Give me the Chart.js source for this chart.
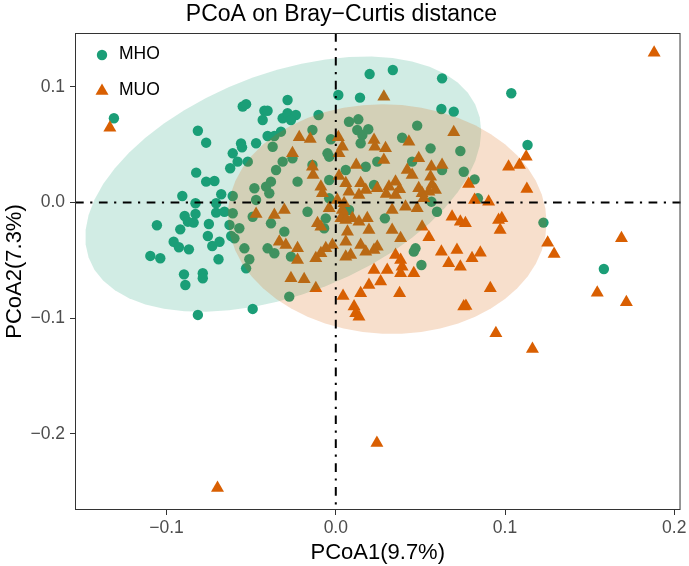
<!DOCTYPE html>
<html>
<head>
<meta charset="utf-8">
<script src="https://cdn.jsdelivr.net/npm/chart.js@4.4.0/dist/chart.umd.min.js"></script>
<style>
  html, body { margin: 0; padding: 0; background: #fff; }
  #wrap { width: 689px; height: 566px; }
</style>
</head>
<body>
<div id="wrap"><canvas id="pcoa" width="689" height="566"></canvas></div>
<script>
// group names and colours
const groups = ['MHO', 'MUO'];
const groupColors = ['#1B9E77', '#D95F02'];

// MHO samples (PCoA1, PCoA2)
const mhoX = [
  -0.1311, -0.0550, -0.0530, -0.0815, -0.0766, -0.0560, -0.0554, -0.0609, -0.0580, -0.0624,
  -0.0520, -0.0825, -0.0766, -0.0717, -0.0907, -0.0829, -0.0677, -0.0609, -0.0707,
  -0.0893, -0.0829, -0.0874, -0.0840, -0.1057, -0.0919, -0.0750, -0.0756, -0.0707, -0.0658,
  -0.0609, -0.0628, -0.0618, -0.0599, -0.0958, -0.0927, -0.0868, -0.0730, -0.0687, -0.1096,
  -0.1037, -0.0693, -0.0897, -0.0889, -0.0786, -0.0786, -0.0815, -0.0530, -0.0511, -0.0540,
  -0.0570,
  0.0200, 0.0337, 0.0628, 0.0015, 0.0143, -0.0285, -0.0422, -0.0403, -0.0432, -0.0314,
  -0.0285, -0.0236, -0.0265, -0.0102, 0.0624, 0.0697, 0.0078, 0.0133, 0.0481, -0.0471,
  -0.0403, -0.0363, -0.0324, -0.0138, -0.0029, 0.0127, 0.0157, 0.0192, 0.0147, 0.0392,
  0.0560, 0.0736, -0.0373, -0.0314, -0.0256, -0.0353, -0.0383, -0.0412, -0.0481, -0.0471,
  -0.0393, -0.0226, -0.0138, -0.0049, -0.0039, 0.0059, 0.0177, 0.0245, 0.0451, 0.0628,
  0.0756, -0.0039, 0.0226, 0.0565, -0.0039,
  -0.0167, -0.0383, -0.0304, -0.0491, -0.0059, -0.0069, 0.0078, 0.0290, 0.0598, -0.0403,
  -0.0363, -0.0265, 0.0471, 0.0461, 0.0506, -0.0275, -0.0491,
  0.1037, 0.1133, 0.0820, 0.0840, 0.1227, 0.1584
];
const mhoY = [
  0.0728, 0.0830, 0.0850, 0.0620, 0.0517, 0.0510, 0.0477, 0.0425, 0.0353, 0.0296,
  0.0353, 0.0258, 0.0180, 0.0186, 0.0056, -0.0007, 0.0071, 0.0056, -0.0007,
  -0.0117, -0.0099, -0.0166, -0.0174, -0.0197, -0.0232, -0.0186, -0.0290, -0.0088, -0.0080,
  -0.0093, -0.0194, -0.0290, -0.0310, -0.0339, -0.0387, -0.0405, -0.0376, -0.0339, -0.0462,
  -0.0482, -0.0491, -0.0621, -0.0713, -0.0612, -0.0655, -0.0972, -0.0569, -0.0491, -0.0396,
  -0.0223,
  0.1110, 0.1145, 0.1073, 0.0929, 0.0906, 0.0886, 0.0793, 0.0793, 0.0713, 0.0728,
  0.0771, 0.0756, 0.0713, 0.0756, 0.0808, 0.0785, 0.0698, 0.0719, 0.0664, 0.0512,
  0.0575, 0.0575, 0.0612, 0.0627, 0.0546, 0.0627, 0.0583, 0.0633, 0.0512, 0.0560,
  0.0468, 0.0445, 0.0482, 0.0353, 0.0382, 0.0281, 0.0180, 0.0137, 0.0123, 0.0022,
  0.0080, 0.0180, 0.0324, 0.0425, 0.0396, 0.0281, 0.0309, 0.0353, 0.0353, 0.0281,
  0.0266, 0.0194, 0.0151, 0.0007, 0.0036,
  -0.0080, -0.0180, -0.0252, -0.0123, -0.0137, -0.0223, -0.0065, -0.0137, -0.0080, -0.0396,
  -0.0439, -0.0468, -0.0396, -0.0425, -0.0540, -0.0814, -0.0920,
  0.0944, 0.0497, 0.0200, 0.0036, -0.0174, -0.0575
];

// MUO samples (PCoA1, PCoA2)
const muoX = [
  -0.1335, -0.0699, 0.0243,
  0.0284, -0.0216, -0.0151, 0.0015, 0.0039, 0.0226, 0.0231, 0.0294, 0.0432, 0.0697,
  -0.0256, 0.0019, 0.0284, 0.0490, -0.0138, -0.0134, 0.0121, 0.0422, 0.0451, 0.0565,
  0.0560, 0.0628, 0.0019, -0.0088, -0.0079, 0.0059, 0.0147, 0.0177, 0.0137, 0.0078,
  0.0245, 0.0314, 0.0353, 0.0377, 0.0298, 0.0353, 0.0490, 0.0510, 0.0550, 0.0569,
  0.0589, 0.0520, 0.0009, 0.0049,
  -0.0471, -0.0304, -0.0363, -0.0039, 0.0039, 0.0049, 0.0030, 0.0059, 0.0098, 0.0137,
  0.0186, 0.0333, 0.0412, 0.0481, 0.0687, 0.0736, 0.0766, -0.0108, -0.0088, 0.0196,
  0.0069, 0.0059, 0.0333, 0.0510, 0.0550, 0.0383, -0.0334, -0.0295, -0.0226, -0.0226,
  -0.0059, -0.0088, -0.0118, -0.0020, 0.0059, 0.0088, 0.0147, 0.0177, 0.0245, 0.0226,
  0.0353, 0.0383, 0.0392, 0.0383, 0.0461, 0.0624, 0.0716, 0.0667, 0.0736, 0.0226,
  0.0304, 0.0265, 0.0196, -0.0265, -0.0187, -0.0118, 0.0043, 0.0147, 0.0377, 0.0108,
  0.0118, 0.0137, 0.0756,
  0.1881, 0.1125, 0.1085, 0.1021, 0.1129, 0.0785, 0.0820, 0.0903, 0.1252, 0.1290,
  0.1688, 0.1545, 0.1717, 0.0946, 0.1162, 0.0913, 0.0769, 0.0854, 0.0805, 0.0981,
  0.0962, 0.0971
];
const muoY = [
  0.0647, -0.2468, -0.2079,
  0.0914, 0.0563, 0.0549, 0.0563, 0.0482, 0.0540, 0.0482, 0.0468, 0.0526, 0.0607,
  0.0425, 0.0425, 0.0367, 0.0382, 0.0309, 0.0238, 0.0324, 0.0281, 0.0238, 0.0309,
  0.0223, 0.0324, 0.0229, 0.0137, 0.0080, 0.0166, 0.0166, 0.0108, 0.0065, 0.0093,
  0.0123, 0.0137, 0.0180, 0.0114, 0.0073, 0.0065, 0.0123, 0.0080, 0.0093, 0.0151,
  0.0108, 0.0036, 0.0022, -0.0007,
  -0.0099, -0.0065, -0.0108, -0.0050, -0.0065, -0.0108, -0.0137, -0.0151, -0.0137, -0.0166,
  -0.0137, -0.0065, -0.0036, -0.0050, -0.0123, -0.0166, -0.0180, -0.0180, -0.0209, -0.0238,
  -0.0252, -0.0339, -0.0238, -0.0209, -0.0301, -0.0309, -0.0339, -0.0367, -0.0396, -0.0497,
  -0.0396, -0.0439, -0.0482, -0.0367, -0.0468, -0.0454, -0.0367, -0.0425, -0.0382, -0.0410,
  -0.0454, -0.0497, -0.0555, -0.0612, -0.0612, -0.0425, -0.0410, -0.0526, -0.0555, -0.0583,
  -0.0583, -0.0684, -0.0713, -0.0655, -0.0664, -0.0742, -0.0808, -0.0785, -0.0785, -0.0900,
  -0.0958, -0.0987, -0.0900,
  0.1295, 0.0396, 0.0324, 0.0309, 0.0117, 0.0160, 0.0022, 0.0007, -0.0347, -0.0445,
  -0.0309, -0.0780, -0.0863, -0.1131, -0.1266, -0.0742, -0.0895, -0.0434, -0.0482, -0.0137,
  -0.0151, -0.0238
];

// axes
const xTicks = [-0.1, 0, 0.1, 0.2];
const yTicks = [-0.2, -0.1, 0, 0.1];
const xRange = [-0.1541, 0.2037];
const yRange = [-0.2658, 0.1465];

const FONT = "'Liberation Sans', Arial, Helvetica, sans-serif";

function toPoints(xs, ys) {
  return xs.map((x, i) => ({ x: x, y: ys[i] }));
}

function fmt(v) {
  const s = Math.abs(v).toFixed(1);
  return v < -1e-9 ? '\u2212' + s : s;
}

// robust t covariance, like MASS::cov.trob (used by stat_ellipse type = "t")
function covTrob(xs, ys, nu) {
  const n = xs.length;
  let w = new Array(n).fill(1);
  let lx = xs.reduce((a, b) => a + b, 0) / n;
  let ly = ys.reduce((a, b) => a + b, 0) / n;
  let dx = [], dy = [];
  for (let it = 0; it < 25; it++) {
    const w0 = w.slice();
    dx = xs.map(v => v - lx);
    dy = ys.map(v => v - ly);
    let sw = 0, a = 0, b = 0, c = 0;
    for (let i = 0; i < n; i++) {
      sw += w[i];
      a += w[i] * dx[i] * dx[i];
      b += w[i] * dx[i] * dy[i];
      c += w[i] * dy[i] * dy[i];
    }
    a /= sw; b /= sw; c /= sw;
    const det = a * c - b * b;
    w = dx.map((_, i) => {
      const q = (c * dx[i] * dx[i] - 2 * b * dx[i] * dy[i] + a * dy[i] * dy[i]) / det;
      return (nu + 2) / (nu + q);
    });
    let s = 0, mx = 0, my = 0;
    for (let i = 0; i < n; i++) { s += w[i]; mx += w[i] * xs[i]; my += w[i] * ys[i]; }
    lx = mx / s; ly = my / s;
    if (w.every((v, i) => Math.abs(v - w0[i]) < 0.01)) break;
  }
  let a = 0, b = 0, c = 0;
  for (let i = 0; i < n; i++) {
    a += w[i] * dx[i] * dx[i];
    b += w[i] * dx[i] * dy[i];
    c += w[i] * dy[i] * dy[i];
  }
  return { cx: lx, cy: ly, sxx: a / n, sxy: b / n, syy: c / n, n: n };
}

// 95% ellipse outline in data units
function ellipsePath(xs, ys) {
  const e = covTrob(xs, ys, 5);
  const d = e.n - 1;
  const f = (d / 2) * (Math.pow(0.05, -2 / d) - 1);  // qf(0.95, 2, d)
  const r = Math.sqrt(2 * f);
  const a0 = Math.sqrt(e.sxx);
  const b0 = e.sxy / a0;
  const c0 = Math.sqrt(e.syy - b0 * b0);
  const out = [];
  for (let k = 0; k <= 51; k++) {
    const t = k * 2 * Math.PI / 51;
    out.push({
      x: e.cx + r * a0 * Math.cos(t),
      y: e.cy + r * (b0 * Math.cos(t) + c0 * Math.sin(t))
    });
  }
  return out;
}

const ellipsePlugin = {
  id: 'ellipses',
  afterDatasetsDraw(chart) {
    const { ctx, chartArea, scales } = chart;
    const sets = [[mhoX, mhoY, 'rgba(27,158,119,0.2)'], [muoX, muoY, 'rgba(217,95,2,0.2)']];
    ctx.save();
    ctx.beginPath();
    ctx.rect(chartArea.left, chartArea.top, chartArea.width, chartArea.height);
    ctx.clip();
    sets.forEach(s => {
      const pts = ellipsePath(s[0], s[1]);
      ctx.beginPath();
      pts.forEach((p, i) => {
        const px = scales.x.getPixelForValue(p.x);
        const py = scales.y.getPixelForValue(p.y);
        if (i === 0) ctx.moveTo(px, py); else ctx.lineTo(px, py);
      });
      ctx.closePath();
      ctx.fillStyle = s[2];
      ctx.fill();
    });
    ctx.restore();
  }
};

// dot-dash lines through the origin, panel frame and legend
const overlayPlugin = {
  id: 'overlay',
  afterDatasetsDraw(chart) {
    const { ctx, chartArea: ca, scales } = chart;
    const x0 = scales.x.getPixelForValue(0);
    const y0 = scales.y.getPixelForValue(0);
    ctx.save();
    ctx.strokeStyle = '#000';
    ctx.lineWidth = 2;
    ctx.setLineDash([8.7, 6.5, 2.2, 6.5]);
    ctx.beginPath();
    ctx.moveTo(ca.left, y0); ctx.lineTo(ca.right, y0);
    ctx.stroke();
    ctx.beginPath();
    ctx.moveTo(x0, ca.top); ctx.lineTo(x0, ca.bottom);
    ctx.stroke();
    ctx.setLineDash([]);

    ctx.strokeStyle = '#333333';
    ctx.lineWidth = 1;
    ctx.strokeRect(ca.left + 0.5, ca.top + 0.5, ca.width - 1, ca.height - 1);

    // legend keys
    ctx.fillStyle = groupColors[0];
    ctx.beginPath();
    ctx.arc(102, 55, 5.2, 0, Math.PI * 2);
    ctx.fill();
    ctx.fillStyle = groupColors[1];
    const tr = 7.5, ty = 91;
    ctx.beginPath();
    ctx.moveTo(102, ty - tr);
    ctx.lineTo(102 + tr * Math.sin(Math.PI * 2 / 3), ty + tr / 2);
    ctx.lineTo(102 - tr * Math.sin(Math.PI * 2 / 3), ty + tr / 2);
    ctx.closePath();
    ctx.fill();
    ctx.fillStyle = '#000';
    ctx.font = '17.5px ' + FONT;
    ctx.textBaseline = 'middle';
    ctx.textAlign = 'left';
    ctx.fillText(groups[0], 119, 54);
    ctx.fillText(groups[1], 119, 90);
    ctx.restore();
  }
};

new Chart(document.getElementById('pcoa'), {
  type: 'scatter',
  data: {
    datasets: [
      {
        label: groups[0],
        data: toPoints(mhoX, mhoY),
        order: 1,
        pointStyle: 'circle',
        pointRadius: 5.2,
        pointBorderWidth: 0,
        backgroundColor: groupColors[0],
        borderColor: groupColors[0]
      },
      {
        label: groups[1],
        data: toPoints(muoX, muoY),
        order: 0,
        pointStyle: 'triangle',
        pointRadius: 7.5,
        pointBorderWidth: 0,
        backgroundColor: groupColors[1],
        borderColor: groupColors[1]
      }
    ]
  },
  options: {
    responsive: false,
    animation: false,
    devicePixelRatio: 1,
    events: [],
    layout: { padding: { left: 0, right: 6, top: 0, bottom: 0 } },
    plugins: {
      legend: { display: false },
      tooltip: { enabled: false },
      title: {
        display: true,
        text: 'PCoA on Bray\u2212Curtis distance',
        color: '#000',
        font: { family: FONT, size: 23, weight: 'normal' },
        padding: { top: 1, bottom: 4.4 }
      }
    },
    scales: {
      x: {
        type: 'linear',
        min: xRange[0],
        max: xRange[1],
        afterBuildTicks: s => { s.ticks = xTicks.map(v => ({ value: v })); },
        afterFit: s => { s.height = 56; },
        border: { display: false },
        grid: { drawOnChartArea: false, drawTicks: true, tickLength: 5, tickColor: '#333333', tickWidth: 1 },
        ticks: { color: '#4D4D4D', font: { family: FONT, size: 17.5 }, padding: 2.5, maxRotation: 0, callback: v => fmt(v) },
        title: { display: true, text: 'PCoA1(9.7%)', color: '#000', font: { family: FONT, size: 22 }, padding: { top: 0, bottom: 0 } }
      },
      y: {
        type: 'linear',
        min: yRange[0],
        max: yRange[1],
        afterBuildTicks: s => { s.ticks = yTicks.map(v => ({ value: v })); },
        afterFit: s => { s.width = 75; },
        border: { display: false },
        grid: { drawOnChartArea: false, drawTicks: true, tickLength: 5, tickColor: '#333333', tickWidth: 1 },
        ticks: { color: '#4D4D4D', font: { family: FONT, size: 17.5 }, padding: 5, callback: v => fmt(v) },
        title: { display: true, text: 'PCoA2(7.3%)', color: '#000', font: { family: FONT, size: 22 }, padding: { top: 1.5, bottom: 0 } }
      }
    }
  },
  plugins: [ellipsePlugin, overlayPlugin]
});
</script>
</body>
</html>
